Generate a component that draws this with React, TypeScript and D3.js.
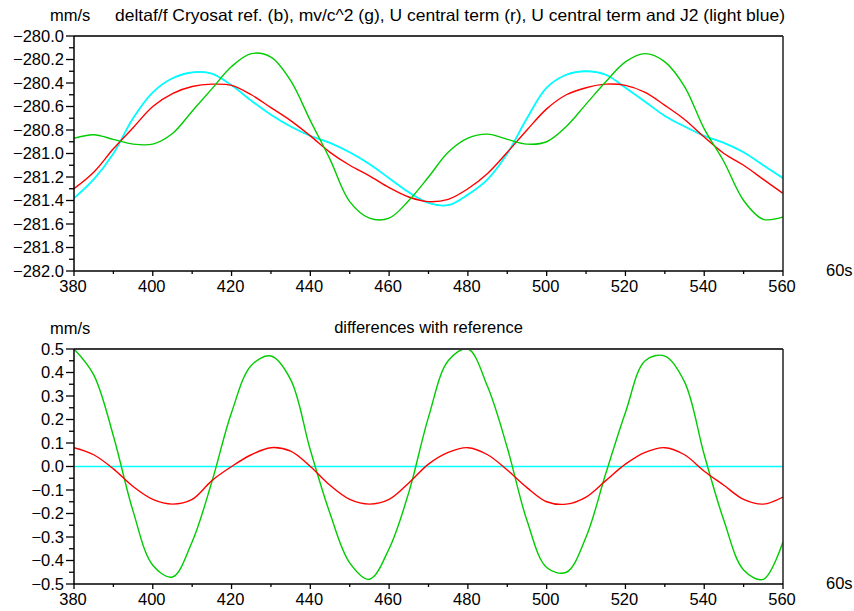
import React from 'react';
import * as d3 from 'd3';

// ---- data ----
const xs = [380, 385, 390, 395, 400, 405, 410, 415, 420, 425, 430, 435, 440, 445, 450, 455, 460, 465, 470, 475, 480, 485, 490, 495, 500, 505, 510, 515, 520, 525, 530, 535, 540, 545, 550, 555, 560];

// top panel: Cryosat reference (blue) == U central term and J2 (light blue)
const refTop = [-281.38, -281.22, -281.0, -280.7, -280.48, -280.36, -280.31, -280.32, -280.42, -280.55, -280.67, -280.77, -280.85, -280.91, -280.99, -281.09, -281.21, -281.33, -281.42, -281.44, -281.35, -281.22, -281.0, -280.7, -280.44, -280.33, -280.3, -280.33, -280.44, -280.56, -280.68, -280.77, -280.85, -280.91, -280.99, -281.1, -281.21];
const j2Top = [-281.38, -281.22, -281.0, -280.7, -280.48, -280.36, -280.31, -280.32, -280.42, -280.55, -280.67, -280.77, -280.85, -280.91, -280.99, -281.09, -281.21, -281.33, -281.42, -281.44, -281.35, -281.22, -281.0, -280.7, -280.44, -280.33, -280.3, -280.33, -280.44, -280.56, -280.68, -280.77, -280.85, -280.91, -280.99, -281.1, -281.21];
const centralTop = [-281.3, -281.16, -280.96, -280.78, -280.6, -280.49, -280.43, -280.41, -280.42, -280.5, -280.61, -280.72, -280.85, -280.99, -281.1, -281.19, -281.29, -281.37, -281.41, -281.39, -281.3, -281.17, -280.99, -280.8, -280.62, -280.5, -280.44, -280.41, -280.42, -280.48, -280.59, -280.71, -280.86, -281.0, -281.1, -281.22, -281.34];
const mvTop = [-280.87, -280.84, -280.88, -280.92, -280.92, -280.83, -280.64, -280.45, -280.26, -280.15, -280.18, -280.38, -280.72, -281.05, -281.41, -281.55, -281.55, -281.4, -281.2, -280.99, -280.87, -280.835, -280.88, -280.92, -280.9, -280.77, -280.58, -280.39, -280.22, -280.15, -280.22, -280.43, -280.79, -281.07, -281.4, -281.56, -281.54];

// bottom panel: differences with reference
const mvDiff = [0.5, 0.39, 0.13, -0.19, -0.42, -0.47, -0.32, -0.065, 0.23, 0.43, 0.47, 0.37, 0.07, -0.2, -0.41, -0.48, -0.35, -0.11, 0.21, 0.45, 0.5, 0.34, 0.08, -0.23, -0.43, -0.45, -0.3, -0.03, 0.23, 0.45, 0.47, 0.36, 0.05, -0.23, -0.44, -0.48, -0.32];
const centralDiff = [0.08, 0.05, -0.01, -0.085, -0.14, -0.16, -0.14, -0.06, 0.0, 0.05, 0.08, 0.065, 0.0, -0.08, -0.14, -0.16, -0.14, -0.07, 0.01, 0.06, 0.08, 0.05, -0.015, -0.09, -0.15, -0.16, -0.13, -0.06, 0.01, 0.06, 0.08, 0.05, -0.02, -0.08, -0.14, -0.16, -0.13];
const j2DiffX = [380, 560];
const j2Diff = [0, 0];

// ticks
const xMajor = [380, 400, 420, 440, 460, 480, 500, 520, 540, 560];
const xMinor = [390, 410, 430, 450, 470, 490, 510, 530, 550];
const topMajor = [-280.0, -280.2, -280.4, -280.6, -280.8, -281.0, -281.2, -281.4, -281.6, -281.8, -282.0];
const topMinor = [-280.1, -280.3, -280.5, -280.7, -280.9, -281.1, -281.3, -281.5, -281.7, -281.9];
const botMajor = [0.5, 0.4, 0.3, 0.2, 0.1, 0.0, -0.1, -0.2, -0.3, -0.4, -0.5];
const botMinor = [0.45, 0.35, 0.25, 0.15, 0.05, -0.05, -0.15, -0.25, -0.35, -0.45];

const FONT = '"Liberation Sans", Arial, Helvetica, sans-serif';
const FS = 16.5;

type Series = { xv: number[]; yv: number[]; color: string; width: number };

function Panel(props: {
  top: number; bottom: number; domain: [number, number];
  majors: number[]; minors: number[]; series: Series[];
}) {
  const { top, bottom, domain, majors, minors, series } = props;
  const left = 74, right = 783;
  const x = d3.scaleLinear().domain([380, 560]).range([left, right]);
  const y = d3.scaleLinear().domain(domain).range([bottom, top]);
  const fmt = d3.format('.1f');
  const line = d3.line<[number, number]>()
    .x(d => x(d[0])).y(d => y(d[1])).curve(d3.curveCatmullRom.alpha(0.5));
  return (
    <g>
      <defs>
        <clipPath id={`clip${top}`}>
          <rect x={left} y={top - 1} width={right - left} height={bottom - top + 2} />
        </clipPath>
      </defs>
      <g clipPath={`url(#clip${top})`}>
        {series.map((s, i) => (
          <path key={i} d={line(s.xv.map((v, k) => [v, s.yv[k]]) as [number, number][]) || ''}
            fill="none" stroke={s.color} strokeWidth={s.width} />
        ))}
      </g>
      <line x1={left} x2={right} y1={top} y2={top} stroke="#3a3a3a" strokeWidth={2} />
      <line x1={right} x2={right} y1={top} y2={bottom} stroke="#222" strokeWidth={1.5} />
      <line x1={left} x2={left} y1={top} y2={bottom} stroke="#000" strokeWidth={1.5} />
      <line x1={left} x2={right} y1={bottom} y2={bottom} stroke="#000" strokeWidth={1.5} />
      {majors.map(v => (
        <g key={'ym' + v}>
          <line x1={left - 8} x2={left} y1={y(v)} y2={y(v)} stroke="#000" strokeWidth={1.3} />
          <text x={left - 10} y={y(v)} dy="0.36em" textAnchor="end" fontFamily={FONT} fontSize={FS} fill="#000">{fmt(v)}</text>
        </g>
      ))}
      {minors.map(v => (
        <line key={'yn' + v} x1={left - 5} x2={left} y1={y(v)} y2={y(v)} stroke="#000" strokeWidth={1.3} />
      ))}
      {xMajor.map(v => (
        <g key={'xm' + v}>
          <line x1={x(v)} x2={x(v)} y1={bottom} y2={bottom + 5} stroke="#000" strokeWidth={1.3} />
          <text x={x(v) - 1} y={bottom + 21} textAnchor="middle" fontFamily={FONT} fontSize={FS} fill="#000">{String(v)}</text>
        </g>
      ))}
      {xMinor.map(v => (
        <line key={'xn' + v} x1={x(v)} x2={x(v)} y1={bottom} y2={bottom + 3} stroke="#000" strokeWidth={1.3} />
      ))}
      <text x={826} y={bottom + 4.5} fontFamily={FONT} fontSize={FS} fill="#000">60s</text>
    </g>
  );
}

export default function App() {
  const BLUE = '#0000ff', CYAN = '#00ffff', RED = '#ff0000', GREEN = '#00cc00';
  return (
    <svg width={854} height={611} style={{ position: 'absolute', left: 0, top: 0, background: '#fff' }}>
      <rect x={0} y={0} width={854} height={611} fill="#fff" />
      <text x={50} y={21} fontFamily={FONT} fontSize={FS} fill="#000">mm/s</text>
      <text x={115} y={21} fontFamily={FONT} fontSize={FS} fill="#000" textLength={670} lengthAdjust="spacingAndGlyphs">deltaf/f  Cryosat ref. (b), mv/c^2 (g), U central term (r), U central term and J2 (light blue)</text>
      <Panel top={36} bottom={271} domain={[-282, -280]} majors={topMajor} minors={topMinor}
        series={[
          { xv: xs, yv: refTop, color: BLUE, width: 0.6 },
          { xv: xs, yv: j2Top, color: CYAN, width: 1.8 },
          { xv: xs, yv: centralTop, color: RED, width: 1.4 },
          { xv: xs, yv: mvTop, color: GREEN, width: 1.4 },
        ]} />
      <text x={50} y={334} fontFamily={FONT} fontSize={FS} fill="#000">mm/s</text>
      <text x={428.5} y={333} textAnchor="middle" fontFamily={FONT} fontSize={FS} fill="#000">differences with reference</text>
      <Panel top={349} bottom={584} domain={[-0.5, 0.5]} majors={botMajor} minors={botMinor}
        series={[
          { xv: j2DiffX, yv: j2Diff, color: CYAN, width: 1.5 },
          { xv: xs, yv: mvDiff, color: GREEN, width: 1.4 },
          { xv: xs, yv: centralDiff, color: RED, width: 1.4 },
        ]} />
    </svg>
  );
}
